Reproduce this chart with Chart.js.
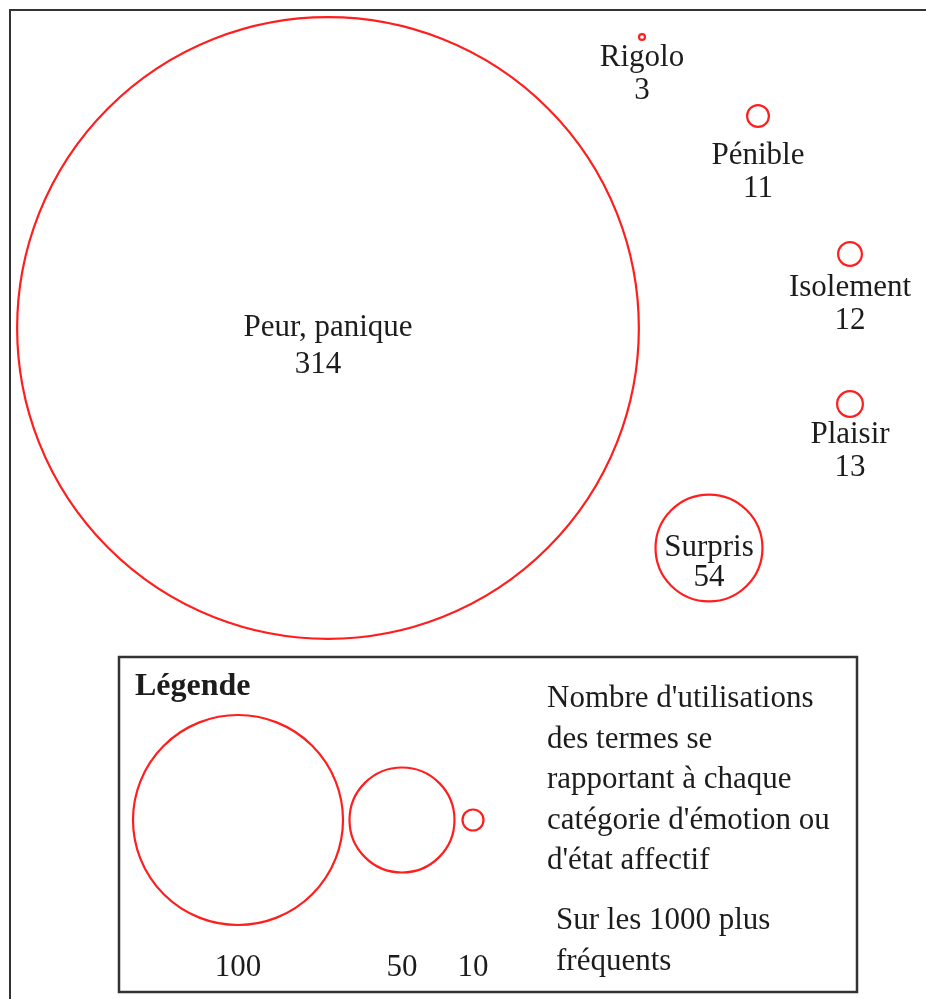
<!DOCTYPE html>
<html>
<head>
<meta charset="utf-8">
<title>Catégories d'émotion</title>
<script src="https://cdn.jsdelivr.net/npm/chart.js@4/dist/chart.umd.min.js"></script>
<style>
    html, body { margin: 0; padding: 0; background: #fff; }
    canvas { display: block; }
</style>
</head>
<body>
<canvas id="bubbleChart" width="926" height="999"></canvas>
<script>
// categories and their counts
const categories = ['Peur, panique', 'Surpris', 'Plaisir', 'Isolement', 'Pénible', 'Rigolo'];
const counts = [314, 54, 13, 12, 11, 3];
// where each bubble sits on the (hidden) layout grid
const posX = [328, 709, 850, 850, 758, 642];
const posY = [328, 548, 404, 254, 116, 37];
// label placement: 0 = inside the bubble, otherwise gap below the bubble centre
const labelDy = [0, 0, 31, 34, 40, 21];

// reference sizes shown in the legend box
const legendValues = [100, 50, 10];
const legendX = [238, 402, 473];
const legendY = [820, 820, 820];

const legendText = [
    "Nombre d'utilisations",
    'des termes se',
    'rapportant à chaque',
    "catégorie d'émotion ou",
    "d'état affectif"
];
const legendNote = ['Sur les 1000 plus', 'fréquents'];

const RED = 'rgb(255, 30, 30)';
const INK = '#1c1c1c';
const FRAME = '#333333';
const FONT = '"Liberation Serif", "DejaVu Serif", serif';

// the bubble controller pads the chart area by the largest radius; the layout here is absolute
Chart.BubbleController.prototype.getMaxOverflow = function () { return 0; };

const bubbleData = categories.map((c, i) => ({ x: posX[i], y: posY[i], r: counts[i] * 0.99 }));
const legendData = legendValues.map((v, i) => ({ x: legendX[i], y: legendY[i], r: v * 1.05 }));

const decorPlugin = {
    id: 'decor',
    beforeDatasetsDraw(chart) {
        const ctx = chart.ctx;
        ctx.save();
        ctx.strokeStyle = FRAME;
        ctx.lineWidth = 2;
        // outer frame (only left and top visible)
        ctx.beginPath();
        ctx.moveTo(10, 999);
        ctx.lineTo(10, 10);
        ctx.lineTo(926, 10);
        ctx.stroke();
        // legend box
        ctx.lineWidth = 2.5;
        ctx.strokeRect(119, 657, 738, 335);
        ctx.restore();
    },
    afterDatasetsDraw(chart) {
        const ctx = chart.ctx;
        ctx.save();
        ctx.fillStyle = INK;
        ctx.textAlign = 'center';
        ctx.textBaseline = 'middle';
        ctx.font = '31px ' + FONT;

        const meta = chart.getDatasetMeta(0);
        meta.data.forEach((pt, i) => {
            if (labelDy[i] === 0) {
                const gap = counts[i] > 100 ? 37 : 30;
                ctx.fillText(categories[i], pt.x, pt.y);
                ctx.fillText(String(counts[i]), pt.x - (counts[i] > 100 ? 10 : 0), pt.y + gap);
            } else {
                ctx.fillText(categories[i], pt.x, pt.y + labelDy[i]);
                ctx.fillText(String(counts[i]), pt.x, pt.y + labelDy[i] + 33);
            }
        });

        const lmeta = chart.getDatasetMeta(1);
        lmeta.data.forEach((pt, i) => {
            ctx.fillText(String(legendValues[i]), pt.x, 968);
        });

        ctx.textAlign = 'left';
        ctx.font = 'bold 32px ' + FONT;
        ctx.fillText('Légende', 135, 687);

        ctx.font = '31px ' + FONT;
        legendText.forEach((line, i) => {
            ctx.fillText(line, 547, 699 + i * 40.5);
        });
        legendNote.forEach((line, i) => {
            ctx.fillText(line, 556, 921 + i * 41);
        });
        ctx.restore();
    }
};

new Chart(document.getElementById('bubbleChart'), {
    type: 'bubble',
    data: {
        datasets: [{
            label: 'Catégories',
            data: bubbleData,
            borderColor: RED,
            backgroundColor: 'rgba(0,0,0,0)',
            borderWidth: 2.2,
            clip: false
        }, {
            label: 'Légende',
            data: legendData,
            borderColor: RED,
            backgroundColor: 'rgba(0,0,0,0)',
            borderWidth: 2.2,
            clip: false
        }]
    },
    options: {
        responsive: false,
        animation: false,
        devicePixelRatio: 1,
        layout: { padding: 0 },
        plugins: {
            legend: { display: false },
            tooltip: { enabled: false }
        },
        scales: {
            x: { type: 'linear', min: 0, max: 926, display: false },
            y: { type: 'linear', min: 0, max: 999, reverse: true, display: false }
        }
    },
    plugins: [decorPlugin]
});
</script>
</body>
</html>
